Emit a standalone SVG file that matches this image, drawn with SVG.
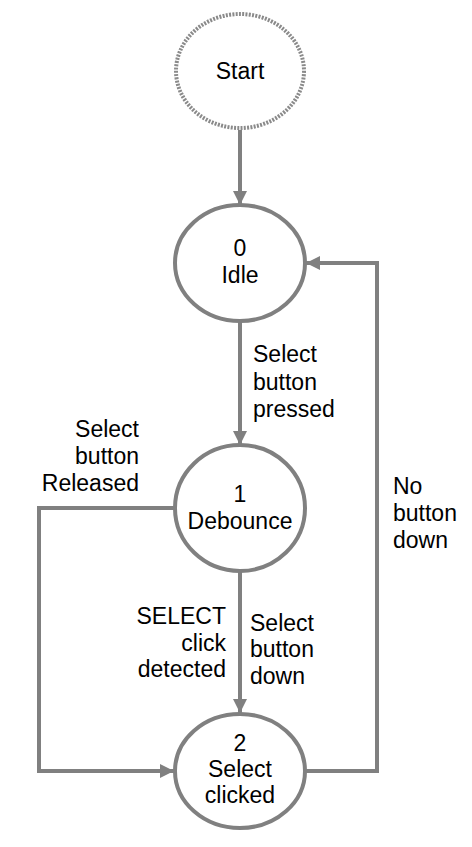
<svg xmlns="http://www.w3.org/2000/svg" width="472" height="847" viewBox="0 0 472 847">
<style>
.node{fill:#fff;stroke:#808080;stroke-width:4}
.start{fill:#fff;stroke:#8a8a8a;stroke-width:4;stroke-dasharray:2 1.3}
.edge{fill:none;stroke:#808080;stroke-width:4}
text{font-family:"Liberation Sans",Arial,sans-serif;font-size:23px;fill:#000}
.c{text-anchor:middle}
.r{text-anchor:end}
</style>
<defs>
<marker id="arr" markerUnits="userSpaceOnUse" markerWidth="16" markerHeight="16" refX="14" refY="8" orient="auto">
<path d="M0,1 L14,8 L0,15 Z" fill="#808080"/>
</marker>
</defs>
<rect width="472" height="847" fill="#fff"/>
<g id="connectors">
<path class="edge" d="M240,130 V205" marker-end="url(#arr)"/>
<path class="edge" d="M240,322 V445" marker-end="url(#arr)"/>
<path class="edge" d="M240,572 V713" marker-end="url(#arr)"/>
<path class="edge" d="M174,508 H39 V771 H174" marker-end="url(#arr)"/>
<path class="edge" d="M305,771 H377 V263 H306" marker-end="url(#arr)"/>
<text x="253" y="362">Select</text>
<text x="253" y="390">button</text>
<text x="253" y="417">pressed</text>
<text class="r" x="139" y="437">Select</text>
<text class="r" x="139" y="464">button</text>
<text class="r" x="139" y="491">Released</text>
<text x="393" y="494">No</text>
<text x="393" y="521">button</text>
<text x="393" y="548">down</text>
<text class="r" x="226" y="624">SELECT</text>
<text class="r" x="226" y="651">click</text>
<text class="r" x="226" y="677">detected</text>
<text x="250" y="631">Select</text>
<text x="250" y="657">button</text>
<text x="250" y="684">down</text>
</g>
<g id="start">
<ellipse class="start" cx="240" cy="71" rx="64" ry="57"/>
<text class="c" x="240" y="79">Start</text>
</g>
<g id="idle">
<ellipse class="node" cx="240" cy="263" rx="65" ry="58"/>
<text class="c" x="240" y="256">0</text>
<text class="c" x="240" y="283">Idle</text>
</g>
<g id="debounce">
<ellipse class="node" cx="240" cy="508" rx="65" ry="63"/>
<text class="c" x="240" y="502">1</text>
<text class="c" x="240" y="529">Debounce</text>
</g>
<g id="clicked">
<ellipse class="node" cx="240" cy="771" rx="65" ry="57"/>
<text class="c" x="240" y="751">2</text>
<text class="c" x="240" y="777">Select</text>
<text class="c" x="240" y="803">clicked</text>
</g>
</svg>
